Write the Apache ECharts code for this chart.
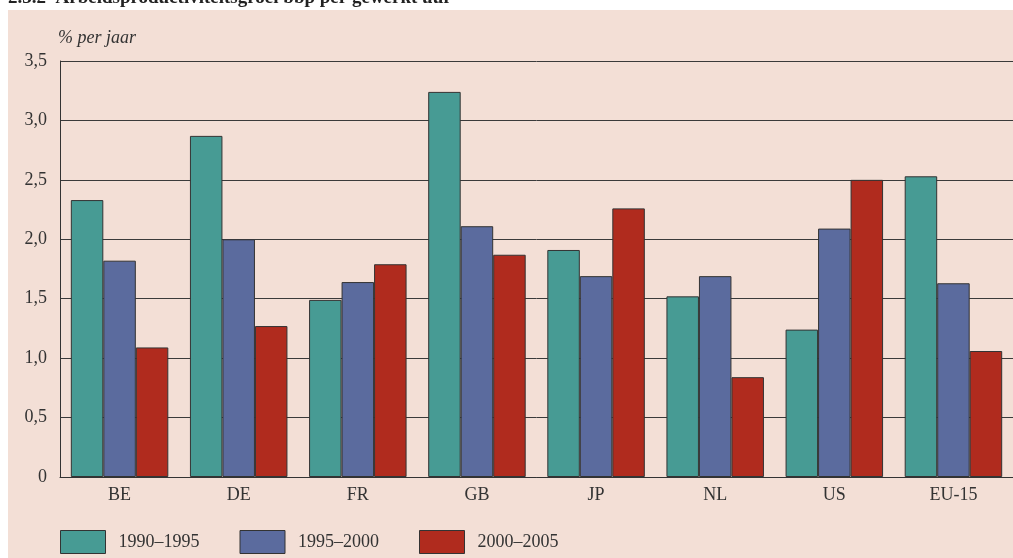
<!DOCTYPE html>
<html>
<head>
<meta charset="utf-8">
<script src="https://cdn.jsdelivr.net/npm/echarts@6/dist/echarts.min.js"></script>
<style>
  html, body { margin: 0; padding: 0; background: #ffffff; }
  #chart { width: 1013px; height: 558px; }
</style>
</head>
<body>
<div id="chart"></div>
<script>
// Arbeidsproductiviteitsgroei, % per jaar
const countries = ['BE', 'DE', 'FR', 'GB', 'JP', 'NL', 'US', 'EU-15'];
const periods = ['1990–1995', '1995–2000', '2000–2005'];
const growth1990_1995 = [2.33, 2.87, 1.49, 3.24, 1.91, 1.52, 1.24, 2.53];
const growth1995_2000 = [1.82, 2.00, 1.64, 2.11, 1.69, 1.69, 2.09, 1.63];
const growth2000_2005 = [1.09, 1.27, 1.79, 1.87, 2.26, 0.84, 2.50, 1.06];
const yTicks = ['0', '0,5', '1,0', '1,5', '2,0', '2,5', '3,0', '3,5'];

const colors = ['#479b94', '#5b6b9e', '#b02b1e'];
const serif = '"Liberation Serif", "DejaVu Serif", serif';
const seriesValues = [growth1990_1995, growth1995_2000, growth2000_2005];

const chart = echarts.init(document.getElementById('chart'));
chart.setOption({
  animation: false,
  textStyle: { fontFamily: serif },
  graphic: [
    { type: 'rect', z: -10, shape: { x: 8, y: 10, width: 1010, height: 560 },
      style: { fill: '#f3dfd6' } },
    { type: 'text', left: 8, top: -11,
      style: { text: '2.3.2  Arbeidsproductiviteitsgroei bbp per gewerkt uur',
               font: 'bold 19px ' + serif, fill: '#222' } },
    { type: 'text', left: 58, top: 29,
      style: { text: '% per jaar', font: 'italic 18px ' + serif, fill: '#333' } }
  ],
  grid: { left: 60, right: -1, top: 61, bottom: 81, containLabel: false },
  legend: {
    left: 60, top: 530, padding: 0,
    icon: 'rect',
    itemWidth: 45, itemHeight: 23, itemGap: 40,
    itemStyle: { borderColor: '#333', borderWidth: 1 },
    textStyle: { fontFamily: serif, fontSize: 18, color: '#333', padding: [14, 0, 0, 8] },
    data: periods
  },
  xAxis: {
    type: 'category',
    data: countries,
    axisLine: { show: true, lineStyle: { color: '#333', width: 1 } },
    axisTick: { show: false },
    axisLabel: { fontFamily: serif, fontSize: 18, color: '#333', margin: 9 }
  },
  yAxis: {
    type: 'value',
    min: 0, max: 3.5, interval: 0.5,
    axisLine: { show: true, lineStyle: { color: '#333', width: 1 } },
    axisTick: { show: false },
    splitLine: { show: true, lineStyle: { color: '#3a3a3a', width: 1 } },
    axisLabel: {
      fontFamily: serif, fontSize: 18, color: '#333', margin: 13,
      formatter: (v) => yTicks[Math.round(v / 0.5)]
    }
  },
  series: periods.map((name, i) => ({
    name,
    type: 'bar',
    data: seriesValues[i],
    barWidth: 32.5,
    barGap: '0%',
    itemStyle: { color: colors[i], borderColor: '#333', borderWidth: 1 }
  }))
});
</script>
</body>
</html>
